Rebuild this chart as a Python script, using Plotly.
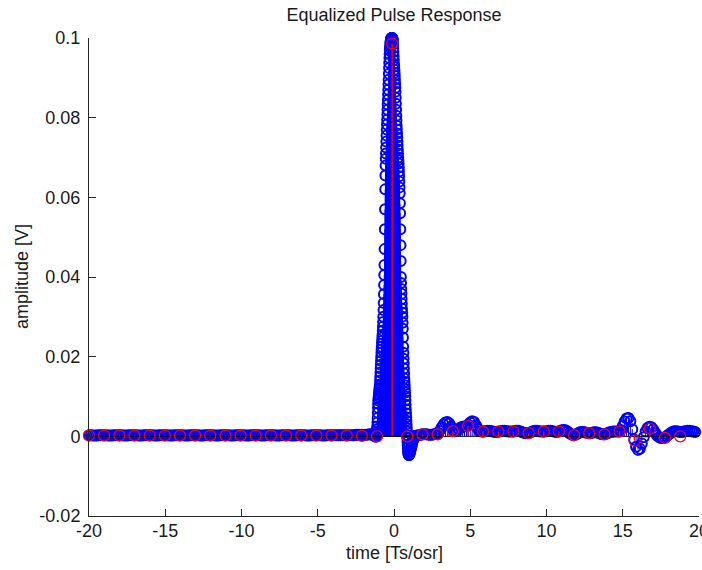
import numpy as np
import plotly.graph_objects as go

# ---------------- data ----------------
X_RANGE = [-20, 20]
Y_RANGE = [-0.02, 0.1]
x_ticks = [-20, -15, -10, -5, 0, 5, 10, 15, 20]
x_ticktext = ["-20", "-15", "-10", "-5", "0", "5", "10", "15", "20"]
y_ticks = [-0.02, 0, 0.02, 0.04, 0.06, 0.08, 0.1]
y_ticktext = ["-0.02", "0", "0.02", "0.04", "0.06", "0.08", "0.1"]

# oversampled (blue) response, part A: t = -20 ... step 0.125
blue_a_start, blue_a_step = -20.0, 0.125
blue_a = [
    0.0003, 0.0003, 0.0002, 0.0002, 0.0002, 0.0003, 0.0003, 0.0003,
    0.0003, 0.0003, 0.0002, 0.0002, 0.0002, 0.0003, 0.0003, 0.0003,
    0.0003, 0.0003, 0.0002, 0.0002, 0.0002, 0.0003, 0.0003, 0.0003,
    0.0003, 0.0003, 0.0002, 0.0002, 0.0002, 0.0003, 0.0003, 0.0003,
    0.0003, 0.0003, 0.0002, 0.0002, 0.0002, 0.0003, 0.0003, 0.0003,
    0.0003, 0.0003, 0.0002, 0.0002, 0.0002, 0.0003, 0.0003, 0.0003,
    0.0003, 0.0003, 0.0002, 0.0002, 0.0002, 0.0003, 0.0003, 0.0003,
    0.0003, 0.0003, 0.0002, 0.0002, 0.0002, 0.0003, 0.0003, 0.0003,
    0.0003, 0.0003, 0.0002, 0.0002, 0.0002, 0.0003, 0.0003, 0.0003,
    0.0003, 0.0003, 0.0002, 0.0002, 0.0002, 0.0003, 0.0003, 0.0003,
    0.0003, 0.0003, 0.0002, 0.0002, 0.0002, 0.0003, 0.0003, 0.0003,
    0.0003, 0.0003, 0.0002, 0.0002, 0.0002, 0.0003, 0.0003, 0.0003,
    0.0003, 0.0003, 0.0002, 0.0002, 0.0002, 0.0003, 0.0003, 0.0003,
    0.0003, 0.0003, 0.0002, 0.0002, 0.0002, 0.0003, 0.0003, 0.0003,
    0.0003, 0.0003, 0.0002, 0.0002, 0.0002, 0.0003, 0.0003, 0.0003,
    0.0003, 0.0003, 0.0002, 0.0002, 0.0002, 0.0003, 0.0003, 0.0003,
    0.0003, 0.0003, 0.0003, 0.0003, 0.0003, 0.0003, 0.0003, 0.0003,
    0.0003, 0.0003, 0.0003, 0.0003, 0.0004, 0.0004, 0.0004, 0.0004,
    0.0003, 0.0004, 0.0004, 0.0005, 0.0005, 0.0004,
]

# part B1 (pulse foot): t = -1.35 ... step 0.025
blue_b1_start, blue_b1_step = -1.35, 0.025
blue_b1 = [0.0003, 0.0003, 0.0003, 0.0002, 0.0001, 0.0000, -0.0001, 0.0000]

# part B2 (main pulse): t = -1.15 ... step 0.0125
blue_b2_start, blue_b2_step = -1.15, 0.0125
blue_b2 = [
    0.0003, 0.0006, 0.0010, 0.0017, 0.0025, 0.0035, 0.0046, 0.0059, 0.0072, 0.0082,
    0.0090, 0.0095, 0.0100, 0.0105, 0.0110, 0.0115, 0.0120, 0.0125, 0.0130, 0.0140,
    0.0150, 0.0160, 0.0170, 0.0180, 0.0190, 0.0200, 0.0210, 0.0218, 0.0225, 0.0233,
    0.0240, 0.0248, 0.0255, 0.0265, 0.0275, 0.0287, 0.0300, 0.0317, 0.0335, 0.0357,
    0.0380, 0.0405, 0.0430, 0.0470, 0.0520, 0.0570, 0.0620, 0.0655, 0.0680, 0.0697,
    0.0710, 0.0725, 0.0740, 0.0755, 0.0770, 0.0783, 0.0795, 0.0808, 0.0820, 0.0833,
    0.0845, 0.0858, 0.0870, 0.0883, 0.0895, 0.0910, 0.0925, 0.0938, 0.0950, 0.0960,
    0.0968, 0.0975, 0.0980, 0.0986, 0.0990, 0.0993, 0.0996, 0.0998, 0.0999, 0.1000,
    0.1000, 0.1000, 0.1000, 0.0999, 0.0998, 0.0996, 0.0993, 0.0985, 0.0975, 0.0965,
    0.0955, 0.0945, 0.0935, 0.0928, 0.0920, 0.0913, 0.0905, 0.0895, 0.0885, 0.0875,
    0.0865, 0.0850, 0.0835, 0.0820, 0.0805, 0.0793, 0.0780, 0.0770, 0.0760, 0.0750,
    0.0740, 0.0730, 0.0720, 0.0710, 0.0700, 0.0693, 0.0685, 0.0675, 0.0665, 0.0653,
    0.0640, 0.0625, 0.0610, 0.0585, 0.0560, 0.0520, 0.0480, 0.0440, 0.0400, 0.0385,
    0.0370, 0.0358, 0.0345, 0.0333, 0.0320, 0.0310, 0.0300, 0.0285, 0.0270, 0.0248,
    0.0225, 0.0210, 0.0195, 0.0183, 0.0170, 0.0158, 0.0145, 0.0137, 0.0128, 0.0119,
    0.0110, 0.0100, 0.0090, 0.0079, 0.0068, 0.0058, 0.0048, 0.0039, 0.0030, 0.0021,
    0.0012, 0.0003, -0.0005, -0.0014, -0.0022, -0.0029, -0.0036, -0.0040, -0.0044, -0.0046,
    -0.0047, -0.0047, -0.0046,
]

# part B3 (negative lobe): t = 1.025 ... step 0.025
blue_b3_start, blue_b3_step = 1.025, 0.025
blue_b3 = [-0.0043, -0.0040, -0.0036, -0.0032, -0.0028, -0.0024, -0.0020,
           -0.0016, -0.0012, -0.0009, -0.0006, -0.0003, -0.0001, 0.0000]

# part C (tail): t = 1.375 ... step 0.125
blue_c_start, blue_c_step = 1.375, 0.125
blue_c = [
    0.0001, 0.0002, 0.0003, 0.0004, 0.0005, 0.0005, 0.0005, 0.0004,
    0.0004, 0.0004, 0.0005, 0.0006, 0.0008, 0.0014, 0.0022, 0.0030,
    0.0035, 0.0036, 0.0032, 0.0024, 0.0016, 0.0013, 0.0014, 0.0018,
    0.0022, 0.0024, 0.0025, 0.0026, 0.0029, 0.0035, 0.0038, 0.0036,
    0.0028, 0.0019, 0.0013, 0.0012, 0.0012, 0.0013, 0.0014, 0.0014,
    0.0013, 0.0012, 0.0011, 0.0011, 0.0012, 0.0013, 0.0014, 0.0014,
    0.0013, 0.0012, 0.0012, 0.0012, 0.0013, 0.0014, 0.0014, 0.0013,
    0.0011, 0.0009, 0.0008, 0.0008, 0.0009, 0.0011, 0.0013, 0.0014,
    0.0014, 0.0013, 0.0012, 0.0012, 0.0012, 0.0013, 0.0014, 0.0014,
    0.0013, 0.0012, 0.0011, 0.0012, 0.0013, 0.0015, 0.0016, 0.0015,
    0.0012, 0.0008, 0.0005, 0.0003, 0.0004, 0.0006, 0.0009, 0.0011,
    0.0011, 0.0010, 0.0009, 0.0008, 0.0008, 0.0009, 0.0010, 0.0010,
    0.0009, 0.0007, 0.0005, 0.0005, 0.0006, 0.0008, 0.0010, 0.0011,
    0.0012, 0.0012, 0.0012, 0.0012, 0.0016, 0.0026, 0.0037, 0.0045,
    0.0046, 0.0038, 0.0018, -0.0008, -0.0026, -0.0034, -0.0031, -0.0018,
    -0.0002, 0.0012, 0.0021, 0.0024, 0.0023, 0.0017, 0.0009, 0.0002,
    -0.0002, -0.0004, -0.0004, -0.0003, 0.0000, 0.0004, 0.0008, 0.0011,
    0.0013, 0.0013, 0.0012, 0.0011, 0.0011, 0.0012, 0.0013, 0.0014,
    0.0014, 0.0013, 0.0012, 0.0011,
]

# symbol-rate (red) samples
red_t = [-20.00, -19.01, -18.01, -17.02, -16.02, -15.03, -14.04, -13.04, -12.05, -11.05,
         -10.06, -9.07, -8.07, -7.08, -6.08, -5.09, -4.10, -3.10, -2.11, -1.11,
         -0.12, 0.87, 1.87, 2.86, 3.86, 4.85, 5.84, 6.84, 7.83, 8.83,
         9.82, 10.81, 11.81, 12.80, 13.80, 14.79, 15.78, 16.78, 17.77, 18.77]
red_v = [0.0002, 0.0002, 0.0002, 0.0002, 0.0002, 0.0002, 0.0002, 0.0002, 0.0002, 0.0002,
         0.0002, 0.0002, 0.0002, 0.0002, 0.0002, 0.0002, 0.0002, 0.0002, 0.0001, 0.0000,
         0.0986, 0.0000, 0.0005, 0.0005, 0.0013, 0.0026, 0.0012, 0.0012, 0.0012, 0.0008,
         0.0012, 0.0012, 0.0003, 0.0008, 0.0005, 0.0012, -0.0011, 0.0019, -0.0004, 0.0000]

# ---------------- build ----------------
def grid(start, step, vals):
    return list(start + step * np.arange(len(vals)))

segments = [
    (blue_a_start, blue_a_step, blue_a),
    (blue_b1_start, blue_b1_step, blue_b1),
    (blue_b2_start, blue_b2_step, blue_b2),
    (blue_b3_start, blue_b3_step, blue_b3),
    (blue_c_start, blue_c_step, blue_c),
]
blue_t, blue_v = [], []
for s, d, v in segments:
    blue_t += grid(s, d, v)
    blue_v += v


def stems(ts, vs):
    xs, ys = [], []
    for a, b in zip(ts, vs):
        xs += [a, a, None]
        ys += [0, b, None]
    return xs, ys


BLUE = "#0000ff"
RED = "#ff0000"
AX = "#262626"
TXT = "#1a1a1a"
FONT = "Liberation Sans, Arial, sans-serif"

fig = go.Figure()
bx, by = stems(blue_t, blue_v)
fig.add_trace(go.Scatter(x=bx, y=by, mode="lines", line=dict(color=BLUE, width=1),
                         hoverinfo="skip", showlegend=False))
fig.add_trace(go.Scatter(x=blue_t, y=blue_v, mode="markers", cliponaxis=False,
                         marker=dict(symbol="circle-open", size=10, color=BLUE,
                                     line=dict(color=BLUE, width=2)),
                         showlegend=False))
fig.add_trace(go.Scatter(x=X_RANGE, y=[0, 0], mode="lines", line=dict(color="#000000", width=1),
                         hoverinfo="skip", showlegend=False))
rx, ry = stems(red_t, red_v)
fig.add_trace(go.Scatter(x=rx, y=ry, mode="lines", line=dict(color=RED, width=1.4),
                         hoverinfo="skip", showlegend=False))
fig.add_trace(go.Scatter(x=red_t, y=red_v, mode="markers", cliponaxis=False,
                         marker=dict(symbol="circle-open", size=11, color=RED,
                                     line=dict(color=RED, width=1.2)),
                         showlegend=False))

fig.update_layout(
    width=702, height=570,
    margin=dict(l=89, r=3, t=38, b=54, autoexpand=False),
    paper_bgcolor="white", plot_bgcolor="white",
    font=dict(family=FONT, size=18, color=TXT),
    title=dict(text="Equalized Pulse Response", x=0.5, xref="paper", xanchor="center",
               y=1 - 15 / 570, yref="container", yanchor="middle",
               font=dict(family=FONT, size=18, color=TXT)),
    xaxis=dict(range=X_RANGE, tickvals=x_ticks, ticktext=x_ticktext, showgrid=False,
               zeroline=False, showline=True, linecolor=AX, linewidth=1,
               ticks="inside", ticklen=7, tickwidth=1, tickcolor=AX, layer="above traces",
               ticklabelstandoff=-2, ticklabeloverflow="allow", automargin=False),
    yaxis=dict(range=Y_RANGE, tickvals=y_ticks, ticktext=y_ticktext, showgrid=False,
               zeroline=False, showline=True, linecolor=AX, linewidth=1,
               ticks="inside", ticklen=7, tickwidth=1, tickcolor=AX, layer="above traces",
               ticklabelstandoff=4, automargin=False),
    annotations=[
        dict(text="time [Ts/osr]", x=0.5, xref="paper", y=(516 - 553) / 478, yref="paper",
             xanchor="center", yanchor="middle", showarrow=False,
             font=dict(family=FONT, size=18, color=TXT)),
        dict(text="amplitude [V]", x=(22 - 89) / 610, xref="paper", y=0.5, yref="paper",
             xanchor="center", yanchor="middle", textangle=-90, showarrow=False,
             font=dict(family=FONT, size=18, color=TXT)),
    ],
)

fig.write_html("out.html")
